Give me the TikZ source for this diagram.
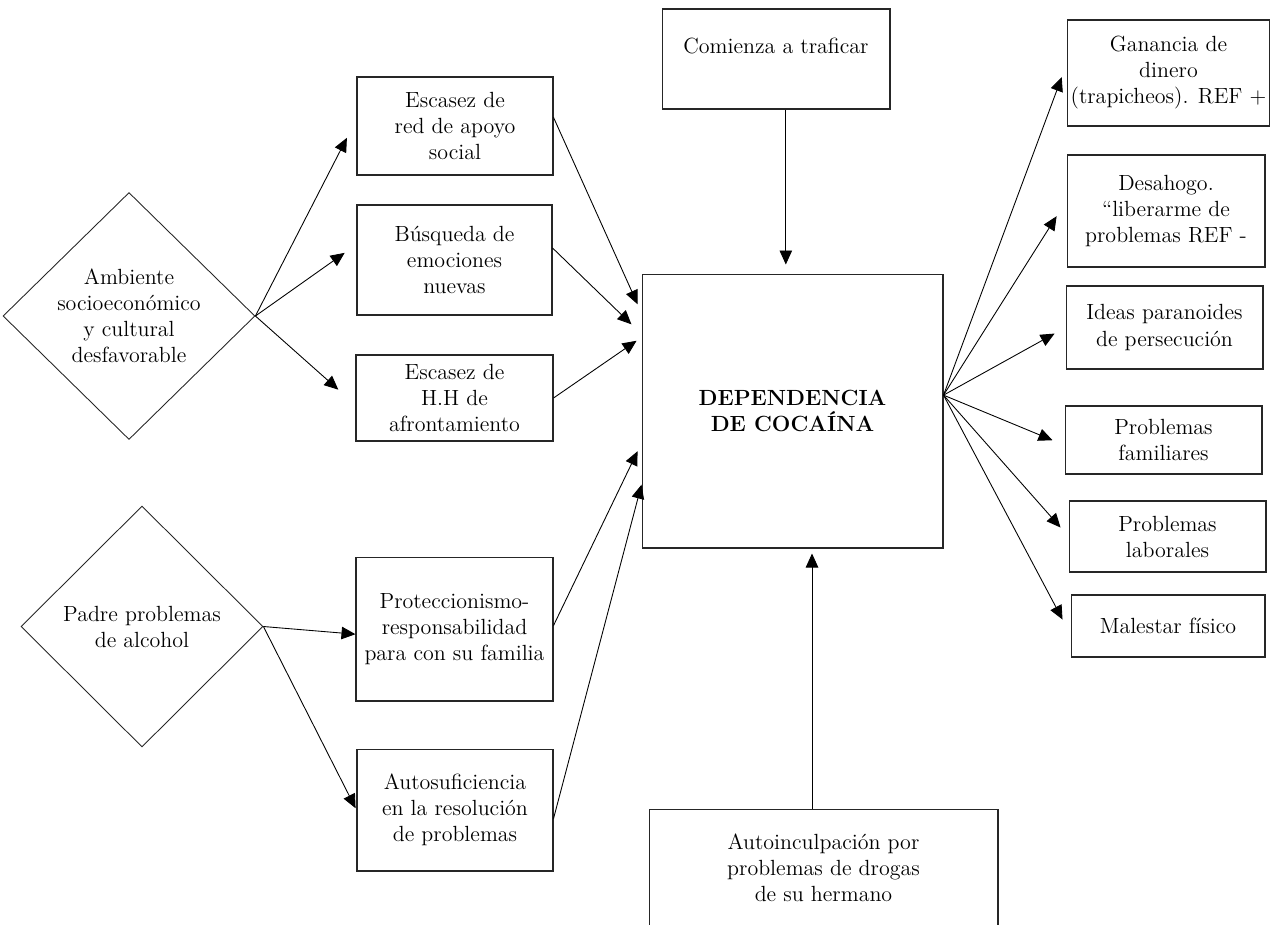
\documentclass[tikz,border=0pt]{standalone}
\usepackage{tikz}
\usetikzlibrary{shapes.geometric,arrows.meta}
\tikzstyle{box1}=[rectangle, draw=black!85, line width=0.6pt, align=center, inner sep=2pt]
\tikzstyle{dia1}=[diamond, draw=black!85, line width=0.5pt, align=center, inner sep=0pt]
\tikzstyle{arr1}=[-{Triangle[length=0.28cm,width=0.25cm]}, line width=0.5pt]

\begin{document}
\begin{tikzpicture}[x=0.02cm, y=-0.02cm, font=\fontsize{12.5}{14.8}\selectfont]
\useasboundingbox (0,0) rectangle (1270,924);
\node [dia1, minimum width=5.04cm, minimum height=4.94cm] (amb) at (129,316) {Ambiente\\socioeconómico\\y cultural\\desfavorable};
\node [dia1, minimum width=4.84cm, minimum height=4.82cm] (padre) at (142,626.5) {Padre problemas\\de alcohol};
\node [box1, minimum width=3.92cm, minimum height=1.96cm] (red) at (455,126) {Escasez de\\red de apoyo\\social};
\node [box1, minimum width=3.9cm, minimum height=2.2cm] (busq) at (454.5,260) {Búsqueda de\\emociones\\nuevas};
\node [box1, minimum width=3.94cm, minimum height=1.72cm] (hab) at (454.5,398) {Escasez de\\H.H de\\afrontamiento};
\node [box1, minimum width=3.94cm, minimum height=2.88cm] (protec) at (454.5,629) {Proteccionismo-\\responsabilidad\\para con su familia};
\node [box1, minimum width=3.92cm, minimum height=2.44cm] (autosuf) at (455,810) {Autosuficiencia\\en la resolución\\de problemas};
\node [box1, minimum width=4.56cm, minimum height=2cm] (traf) at (776,59) {Comienza a traficar\\ \mbox{}};
\node [box1, minimum width=6.02cm, minimum height=5.48cm, font=\fontsize{12.5}{14.8}\selectfont\bfseries] (dep) at (792.5,411) {DEPENDENCIA\\DE COCAÍNA};
\node [box1, anchor=north, minimum width=6.98cm, inner ysep=0.49cm] (herm) at (823.5,809) {Autoinculpación por\\problemas de drogas\\de su hermano};
\node [box1, minimum width=3.94cm, minimum height=2.12cm] (gan) at (1168.5,73) {Ganancia de\\dinero\\(trapicheos). REF +};
\node [box1, minimum width=3.96cm, minimum height=2.24cm] (des) at (1166,211) {Desahogo.\\“liberarme de\\problemas REF -};
\node [box1, minimum width=3.94cm, minimum height=1.66cm] (ideas) at (1164.5,327.5) {Ideas paranoides\\de persecución};
\node [box1, minimum width=3.94cm, minimum height=1.36cm] (fam) at (1163.5,440) {Problemas\\familiares};
\node [box1, minimum width=3.94cm, minimum height=1.42cm] (lab) at (1167.5,536.5) {Problemas\\laborales};
\node [box1, minimum width=3.88cm, minimum height=1.24cm] (mal) at (1168,626) {Malestar físico};

\draw[arr1, shorten >=0.42cm] (amb.east) -- (red.176);
\draw[arr1, shorten >=0.29cm] (amb.east) -- (busq.171);
\draw[arr1, shorten >=0.46cm] (amb.east) -- (hab.184);
\draw[arr1] (padre.east) -- (protec.183);
\draw[arr1, shorten >=0.04cm] (padre.east) -- (autosuf.west);

\draw[arr1, shorten >=0.19cm] (red.5) -- (dep.147);
\draw[arr1, shorten >=0.28cm] (busq.7) -- (dep.153);
\draw[arr1, shorten >=0.12cm] (hab.east) -- (dep.154);
\draw[arr1, shorten >=0.18cm] (protec.2) -- (dep.192);
\draw[arr1] (autosuf.-5) -- (dep.206);
\draw[arr1, shorten >=0.18cm] (traf.-79) -- (traf.-79 |- dep.north);
\draw[arr1, shorten >=0.1cm] ([xshift=-0.23cm]herm.north) -- ([xshift=-0.23cm]herm.north |- dep.south);

\draw[arr1, shorten >=0.28cm] (dep.6) -- (gan.175);
\draw[arr1, shorten >=0.37cm] (dep.6) -- (des.174);
\draw[arr1, shorten >=0.25cm] (dep.6) -- (ideas.west);
\draw[arr1, shorten >=0.26cm] (dep.6) -- (fam.183);
\draw[arr1, shorten >=0.24cm] (dep.6) -- (lab.west);
\draw[arr1, shorten >=0.34cm] (dep.6) -- (mal.185);
\end{tikzpicture}
\end{document}
